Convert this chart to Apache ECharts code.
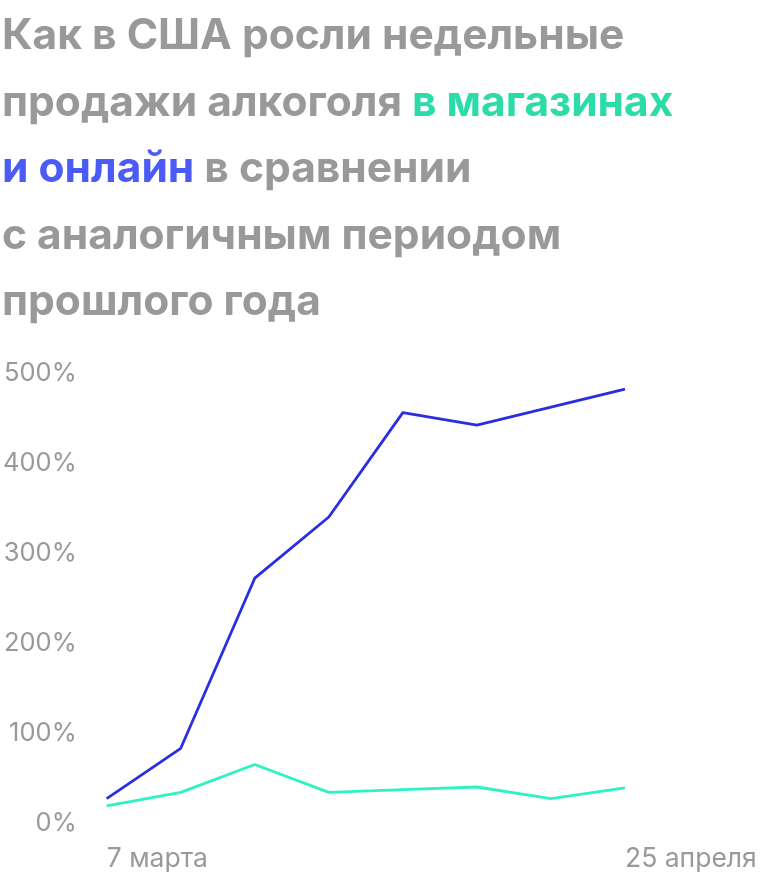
<!DOCTYPE html>
<html lang="ru">
<head>
    <meta charset="UTF-8">
    <title>Продажи алкоголя в США</title>
    <script src="https://cdn.jsdelivr.net/npm/echarts@6/dist/echarts.min.js"></script>
    <style>
        html, body { margin: 0; padding: 0; background: #fff; }
        #chart { width: 768px; height: 882px; }
    </style>
</head>
<body>
    <div id="chart"></div>
    <script>
        // недели: с 7 марта по 25 апреля
        const weeks = ['7 марта', '14 марта', '21 марта', '28 марта', '4 апреля', '11 апреля', '18 апреля', '25 апреля'];
        const shownLabels = ['7 марта', '25 апреля'];
        // рост к прошлому году, %
        const online = [27, 83, 272, 340, 456, 442, 462, 482];
        const stores = [19, 34, 65, 34, 37, 40, 27, 39];
        const yTicks = [0, 100, 200, 300, 400, 500];

        const gray = '#999999';
        const font = 'Inter';
        const chart = echarts.init(document.getElementById('chart'));

        const head = { fontSize: 42.5, fontWeight: 'bold', fontFamily: font, lineHeight: 66.5 };

        const option = {
            backgroundColor: '#ffffff',
            animation: false,
            textStyle: { fontFamily: font },
            title: {
                left: -3,
                top: -2,
                text: '{g|Как в США росли недельные}\n' +
                      '{g|продажи алкоголя }{t|в магазинах}\n' +
                      '{b|и онлайн}{g| в сравнении}\n' +
                      '{g|с аналогичным периодом}\n' +
                      '{g|прошлого года}',
                textStyle: {
                    rich: {
                        g: Object.assign({ color: gray }, head),
                        t: Object.assign({ color: '#2cdca8' }, head),
                        b: Object.assign({ color: '#4a5cf5' }, head)
                    }
                }
            },
            grid: {
                left: 104,
                right: 143,
                top: 373,
                bottom: 59
            },
            xAxis: {
                type: 'category',
                data: weeks,
                boundaryGap: false,
                axisLine: { show: false },
                axisTick: { show: false },
                axisLabel: {
                    interval: 0,
                    align: 'left',
                    margin: 23,
                    color: gray,
                    fontSize: 26.5,
                    fontFamily: font,
                    formatter: function (v) { return shownLabels.indexOf(v) >= 0 ? v : ''; }
                }
            },
            yAxis: {
                type: 'value',
                min: yTicks[0],
                max: yTicks[yTicks.length - 1],
                interval: 100,
                axisLine: { show: false },
                axisTick: { show: false },
                splitLine: { show: false },
                axisLabel: {
                    margin: 30,
                    color: gray,
                    fontSize: 25.5,
                    fontFamily: font,
                    formatter: '{value}%'
                }
            },
            series: [
                {
                    name: 'онлайн',
                    type: 'line',
                    data: online,
                    showSymbol: false,
                    lineStyle: { color: '#2b2ee0', width: 2.8 }
                },
                {
                    name: 'в магазинах',
                    type: 'line',
                    data: stores,
                    showSymbol: false,
                    lineStyle: { color: '#2ef2c4', width: 2.8 }
                }
            ]
        };

        chart.setOption(option);
    </script>
</body>
</html>
